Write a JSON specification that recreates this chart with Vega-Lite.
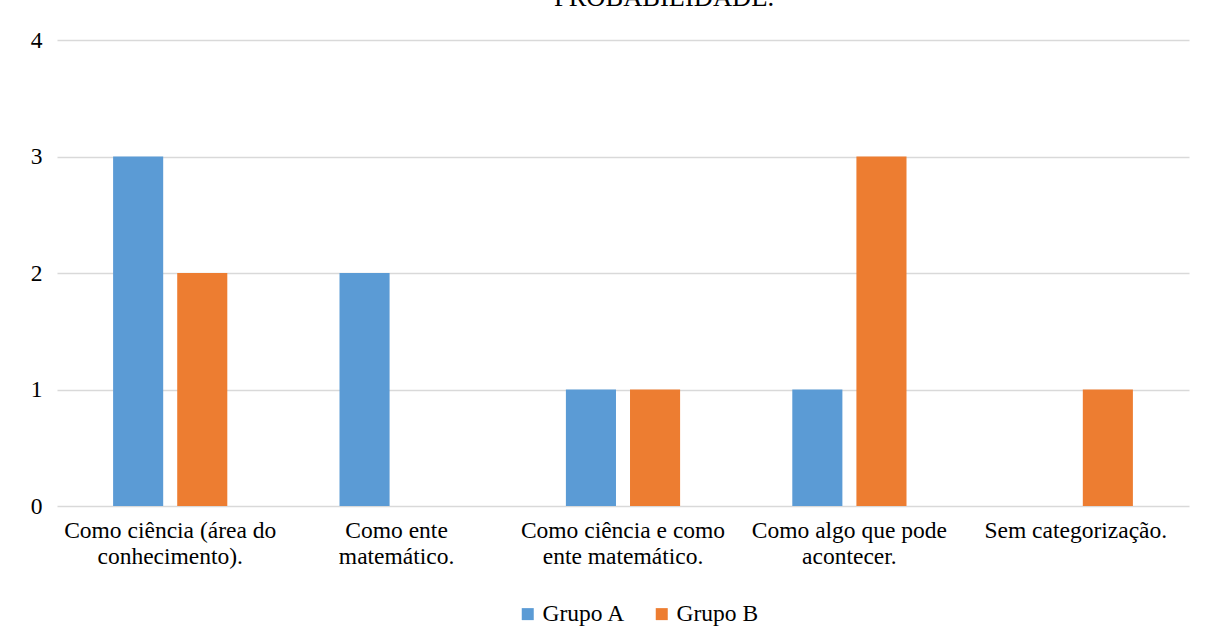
{
  "$schema": "https://vega.github.io/schema/vega-lite/v6.json",
  "autosize": "none",
  "width": 1132,
  "height": 466,
  "padding": {"left": 57, "top": 40, "right": 29, "bottom": 135},
  "background": "white",
  "title": {
    "text": "PROBABILIDADE.",
    "font": "Liberation Serif",
    "fontSize": 26.5,
    "fontWeight": "normal",
    "color": "#000000",
    "anchor": "middle",
    "baseline": "alphabetic",
    "dx": 41,
    "dy": 12,
    "offset": 8
  },
  "data": {
    "values": [
      {"categoria": "Como ciência (área do conhecimento).", "grupo": "Grupo A", "valor": 3},
      {"categoria": "Como ciência (área do conhecimento).", "grupo": "Grupo B", "valor": 2},
      {"categoria": "Como ente matemático.", "grupo": "Grupo A", "valor": 2},
      {"categoria": "Como ente matemático.", "grupo": "Grupo B", "valor": 0},
      {"categoria": "Como ciência e como ente matemático.", "grupo": "Grupo A", "valor": 1},
      {"categoria": "Como ciência e como ente matemático.", "grupo": "Grupo B", "valor": 1},
      {"categoria": "Como algo que pode acontecer.", "grupo": "Grupo A", "valor": 1},
      {"categoria": "Como algo que pode acontecer.", "grupo": "Grupo B", "valor": 3},
      {"categoria": "Sem categorização.", "grupo": "Grupo A", "valor": 0},
      {"categoria": "Sem categorização.", "grupo": "Grupo B", "valor": 1}
    ]
  },
  "mark": {"type": "bar"},
  "encoding": {
    "x": {
      "field": "categoria",
      "type": "nominal",
      "sort": null,
      "scale": {"paddingInner": 0, "paddingOuter": 0},
      "axis": {
        "title": null,
        "labelAngle": 0,
        "domain": false,
        "ticks": false,
        "labelPadding": 12,
        "labelLimit": 0,
        "labelLineHeight": 26,
        "labelBaseline": "top",
        "labelFont": "Liberation Serif",
        "labelFontSize": 23.5,
        "labelExpr": "datum.value == 'Como ciência (área do conhecimento).' ? ['Como ciência (área do', 'conhecimento).'] : datum.value == 'Como ente matemático.' ? ['Como ente', 'matemático.'] : datum.value == 'Como ciência e como ente matemático.' ? ['Como ciência e como', 'ente matemático.'] : datum.value == 'Como algo que pode acontecer.' ? ['Como algo que pode', 'acontecer.'] : datum.value"
      }
    },
    "xOffset": {
      "field": "grupo",
      "type": "nominal",
      "scale": {"paddingInner": 0.21875, "paddingOuter": 0.875}
    },
    "y": {
      "field": "valor",
      "type": "quantitative",
      "scale": {"domain": [0, 4], "nice": false},
      "axis": {
        "title": null,
        "values": [0, 1, 2, 3, 4],
        "format": "d",
        "domain": false,
        "ticks": false,
        "labelPadding": 15,
        "labelFont": "Liberation Serif",
        "labelFontSize": 23.5,
        "grid": true
      }
    },
    "color": {
      "field": "grupo",
      "type": "nominal",
      "scale": {"domain": ["Grupo A", "Grupo B"], "range": ["#5B9BD5", "#ED7D31"]},
      "legend": {
        "title": null,
        "orient": "none",
        "legendX": 459,
        "legendY": 562,
        "direction": "horizontal",
        "symbolType": "square",
        "symbolSize": 144,
        "symbolStrokeWidth": 0,
        "labelOffset": 3,
        "columnPadding": 24,
        "labelFont": "Liberation Serif",
        "labelFontSize": 23.5
      }
    }
  },
  "config": {
    "view": {"stroke": null},
    "axis": {
      "labelColor": "#000000",
      "gridColor": "#d9d9d9",
      "gridWidth": 1.5
    },
    "legend": {
      "labelColor": "#000000"
    }
  }
}
